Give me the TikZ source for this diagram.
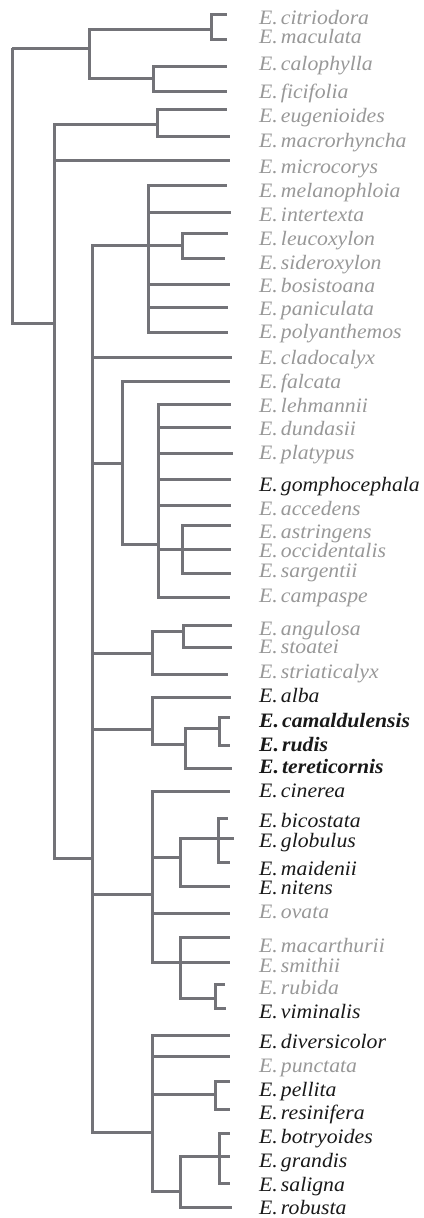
\documentclass[tikz,border=0pt]{standalone}
\usepackage{fontspec}
\setmainfont{Liberation Serif}[FakeStretch=1.06]
\definecolor{linegray}{RGB}{115,115,120}
\definecolor{labgray}{RGB}{152,152,152}
\definecolor{labblack}{RGB}{25,25,25}
\newcommand\spfont{\fontsize{20.5}{22}\selectfont\itshape}
\begin{document}
\begin{tikzpicture}[x=1pt,y=-1pt,
  br/.style={draw=linegray,line width=3pt,line join=miter},
  sp/.style={anchor=base west,inner sep=0pt,font=\spfont,text=labgray},
  spk/.style={sp,text=labblack},
  spb/.style={sp,text=labblack,font=\spfont\bfseries}]
\useasboundingbox (0,0) rectangle (423,1218);

% labels
\node[sp]  (citriodora)    at (259,24)   {E.\hspace{0.15em}citriodora};
\node[sp]  (maculata)      at (259,43)   {E.\hspace{0.15em}maculata};
\node[sp]  (calophylla)    at (259,70)   {E.\hspace{0.15em}calophylla};
\node[sp]  (ficifolia)     at (259,98)   {E.\hspace{0.15em}ficifolia};
\node[sp]  (eugenioides)   at (259,122)  {E.\hspace{0.15em}eugenioides};
\node[sp]  (macrorhyncha)  at (259,147)  {E.\hspace{0.15em}macrorhyncha};
\node[sp]  (microcorys)    at (259,173)  {E.\hspace{0.15em}microcorys};
\node[sp]  (melanophloia)  at (259,197)  {E.\hspace{0.15em}melanophloia};
\node[sp]  (intertexta)    at (259,221)  {E.\hspace{0.15em}intertexta};
\node[sp]  (leucoxylon)    at (259,245)  {E.\hspace{0.15em}leucoxylon};
\node[sp]  (sideroxylon)   at (259,269)  {E.\hspace{0.15em}sideroxylon};
\node[sp]  (bosistoana)    at (259,292)  {E.\hspace{0.15em}bosistoana};
\node[sp]  (paniculata)    at (259,315)  {E.\hspace{0.15em}paniculata};
\node[sp]  (polyanthemos)  at (259,338)  {E.\hspace{0.15em}polyanthemos};
\node[sp]  (cladocalyx)    at (259,364)  {E.\hspace{0.15em}cladocalyx};
\node[sp]  (falcata)       at (259,388)  {E.\hspace{0.15em}falcata};
\node[sp]  (lehmannii)     at (259,412)  {E.\hspace{0.15em}lehmannii};
\node[sp]  (dundasii)      at (259,435)  {E.\hspace{0.15em}dundasii};
\node[sp]  (platypus)      at (259,459)  {E.\hspace{0.15em}platypus};
\node[spk] (gomphocephala) at (259,491)  {E.\hspace{0.15em}gomphocephala};
\node[sp]  (accedens)      at (259,515)  {E.\hspace{0.15em}accedens};
\node[sp]  (astringens)    at (259,538)  {E.\hspace{0.15em}astringens};
\node[sp]  (occidentalis)  at (259,557)  {E.\hspace{0.15em}occidentalis};
\node[sp]  (sargentii)     at (259,577)  {E.\hspace{0.15em}sargentii};
\node[sp]  (campaspe)      at (259,602)  {E.\hspace{0.15em}campaspe};
\node[sp]  (angulosa)      at (259,635)  {E.\hspace{0.15em}angulosa};
\node[sp]  (stoatei)       at (259,653)  {E.\hspace{0.15em}stoatei};
\node[sp]  (striaticalyx)  at (259,678)  {E.\hspace{0.15em}striaticalyx};
\node[spk] (alba)          at (259,702)  {E.\hspace{0.15em}alba};
\node[spb] (camaldulensis) at (259,727)  {E.\hspace{0.15em}camaldulensis};
\node[spb] (rudis)         at (259,751)  {E.\hspace{0.15em}rudis};
\node[spb] (tereticornis)  at (259,773)  {E.\hspace{0.15em}tereticornis};
\node[spk] (cinerea)       at (259,797)  {E.\hspace{0.15em}cinerea};
\node[spk] (bicostata)     at (259,827)  {E.\hspace{0.15em}bicostata};
\node[spk] (globulus)      at (259,847)  {E.\hspace{0.15em}globulus};
\node[spk] (maidenii)      at (259,875)  {E.\hspace{0.15em}maidenii};
\node[spk] (nitens)        at (259,894)  {E.\hspace{0.15em}nitens};
\node[sp]  (ovata)         at (259,918)  {E.\hspace{0.15em}ovata};
\node[sp]  (macarthurii)   at (259,952)  {E.\hspace{0.15em}macarthurii};
\node[sp]  (smithii)       at (259,972)  {E.\hspace{0.15em}smithii};
\node[sp]  (rubida)        at (259,994)  {E.\hspace{0.15em}rubida};
\node[spk] (viminalis)     at (259,1018) {E.\hspace{0.15em}viminalis};
\node[spk] (diversicolor)  at (259,1048) {E.\hspace{0.15em}diversicolor};
\node[sp]  (punctata)      at (259,1072) {E.\hspace{0.15em}punctata};
\node[spk] (pellita)       at (259,1096) {E.\hspace{0.15em}pellita};
\node[spk] (resinifera)    at (259,1119) {E.\hspace{0.15em}resinifera};
\node[spk] (botryoides)    at (259,1143) {E.\hspace{0.15em}botryoides};
\node[spk] (grandis)       at (259,1167) {E.\hspace{0.15em}grandis};
\node[spk] (saligna)       at (259,1191) {E.\hspace{0.15em}saligna};
\node[spk] (robusta)       at (259,1214) {E.\hspace{0.15em}robusta};

% tip ends
\coordinate (tcitriodora) at (227,14);
\coordinate (tmaculata) at (227,39);
\coordinate (tcalophylla) at (227,66);
\coordinate (tficifolia) at (227,91);
\coordinate (teugenioides) at (227,109);
\coordinate (tmacrorhyncha) at (230,136);
\coordinate (tmicrocorys) at (230,160);
\coordinate (tmelanophloia) at (227,185);
\coordinate (tintertexta) at (231,212);
\coordinate (tleucoxylon) at (228,233);
\coordinate (tsideroxylon) at (225,258);
\coordinate (tbosistoana) at (230,284);
\coordinate (tpaniculata) at (228,307);
\coordinate (tpolyanthemos) at (228,332);
\coordinate (tcladocalyx) at (232,357);
\coordinate (tfalcata) at (230,381);
\coordinate (tlehmannii) at (231,404);
\coordinate (tdundasii) at (231,427);
\coordinate (tplatypus) at (233,453);
\coordinate (tgomphocephala) at (231,479);
\coordinate (taccedens) at (231,505);
\coordinate (tastringens) at (231,525);
\coordinate (toccidentalis) at (231,549);
\coordinate (tsargentii) at (231,573);
\coordinate (tcampaspe) at (230,597);
\coordinate (tangulosa) at (232,625);
\coordinate (tstoatei) at (232,647);
\coordinate (tstriaticalyx) at (228,674);
\coordinate (talba) at (231,697);
\coordinate (tcamaldulensis) at (230,717);
\coordinate (trudis) at (230,745);
\coordinate (ttereticornis) at (232,768);
\coordinate (tcinerea) at (230,791);
\coordinate (tbicostata) at (228,818);
\coordinate (tglobulus) at (234,838);
\coordinate (tmaidenii) at (230,862);
\coordinate (tnitens) at (230,886);
\coordinate (tovata) at (230,913);
\coordinate (tmacarthurii) at (230,937);
\coordinate (tsmithii) at (230,962);
\coordinate (trubida) at (225,984);
\coordinate (tviminalis) at (226,1008);
\coordinate (tdiversicolor) at (230,1035);
\coordinate (tpunctata) at (230,1056);
\coordinate (tpellita) at (230,1081);
\coordinate (tresinifera) at (230,1109);
\coordinate (tbotryoides) at (230,1133);
\coordinate (tgrandis) at (230,1156);
\coordinate (tsaligna) at (230,1183);
\coordinate (trobusta) at (232,1207);

% internal nodes
\coordinate (R) at (12,48);
\coordinate (A) at (89,48);
\coordinate (A1) at (211,29);
\coordinate (A2) at (153,78);
\coordinate (B) at (54,323);
\coordinate (B1) at (157,124);
\coordinate (B2) at (92,858);
\coordinate (C1) at (148,245);
\coordinate (C1a) at (182,245);
\coordinate (C2) at (122,463);
\coordinate (C2a) at (158,544);
\coordinate (C2b) at (182,549);
\coordinate (C3) at (152,653);
\coordinate (C3a) at (183,631);
\coordinate (C4) at (152,729);
\coordinate (C4a) at (185,744);
\coordinate (C4b) at (219,728);
\coordinate (C5) at (152,894);
\coordinate (C5a) at (180,857);
\coordinate (C5b) at (218,838);
\coordinate (C5c) at (180,962);
\coordinate (C5d) at (215,998);
\coordinate (C6) at (152,1132);
\coordinate (C6a) at (215,1094);
\coordinate (C6b) at (180,1191);
\coordinate (C6c) at (219,1156);

% branches
\foreach \p/\c in {R/A, R/B,
  A/A1, A/A2, A1/tcitriodora, A1/tmaculata, A2/tcalophylla, A2/tficifolia,
  B/B1, B/tmicrocorys, B/B2, B1/teugenioides, B1/tmacrorhyncha,
  B2/C1, B2/tcladocalyx, B2/C2, B2/C3, B2/C4, B2/C5, B2/C6,
  C1/tmelanophloia, C1/tintertexta, C1/C1a, C1/tbosistoana, C1/tpaniculata, C1/tpolyanthemos,
  C1a/tleucoxylon, C1a/tsideroxylon,
  C2/tfalcata, C2/C2a,
  C2a/tlehmannii, C2a/tdundasii, C2a/tplatypus, C2a/tgomphocephala, C2a/taccedens, C2a/C2b, C2a/tcampaspe,
  C2b/tastringens, C2b/toccidentalis, C2b/tsargentii,
  C3/C3a, C3/tstriaticalyx, C3a/tangulosa, C3a/tstoatei,
  C4/talba, C4/C4a, C4a/C4b, C4a/ttereticornis, C4b/tcamaldulensis, C4b/trudis,
  C5/tcinerea, C5/C5a, C5/tovata, C5/C5c,
  C5a/C5b, C5a/tnitens, C5b/tbicostata, C5b/tglobulus, C5b/tmaidenii,
  C5c/tmacarthurii, C5c/tsmithii, C5c/C5d, C5d/trubida, C5d/tviminalis,
  C6/tdiversicolor, C6/tpunctata, C6/C6a, C6/C6b,
  C6a/tpellita, C6a/tresinifera, C6b/C6c, C6b/trobusta,
  C6c/tbotryoides, C6c/tgrandis, C6c/tsaligna}
  \draw[br] (\p) |- (\c);
\end{tikzpicture}
\end{document}
